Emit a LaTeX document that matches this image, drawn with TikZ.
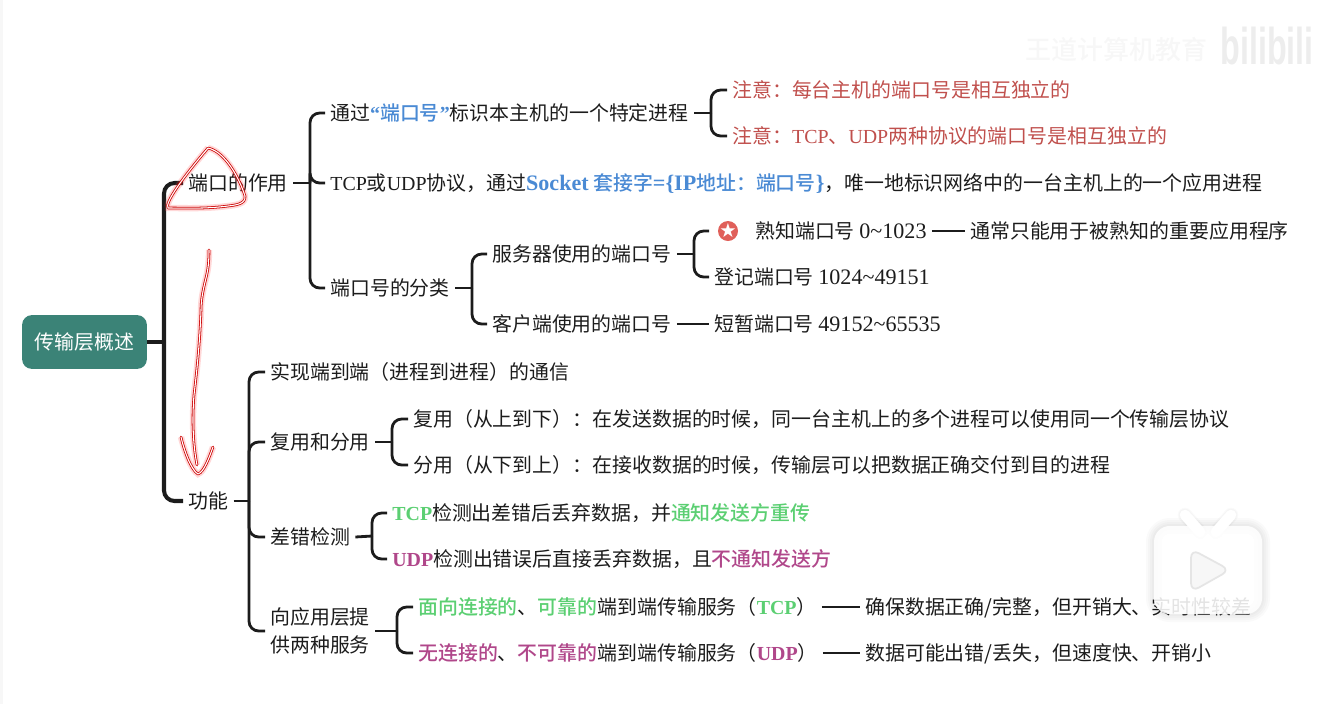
\documentclass[tikz,border=0pt]{standalone}
\usepackage{fontspec}
\usepackage{graphicx}
\usepackage{xcolor}
\usetikzlibrary{arrows.meta, positioning, calc}
\setmainfont{Noto Sans CJK SC}[BoldFont={Noto Sans CJK SC Medium}]
\newfontfamily\latinfont{Liberation Serif}
\newfontfamily\widefont[Scale=1.11]{Liberation Serif}
\newfontfamily\sansfont{Liberation Sans}
\newcommand{\la}[1]{{\latinfont #1}}
\newcommand{\wi}[1]{{\widefont #1}}
\definecolor{cTeal}{HTML}{3B8377}
\definecolor{cInk}{HTML}{1C1C1C}
\definecolor{cBlue}{HTML}{4A8AD4}
\definecolor{cNote}{HTML}{C0504D}
\definecolor{cStar}{HTML}{E0605A}
\definecolor{cGreen}{HTML}{5BCF72}
\definecolor{cPlum}{HTML}{B0478A}
\newcommand{\hlBlue}[1]{\textcolor{cBlue}{\bfseries #1}}
\newcommand{\hlGreen}[1]{\textcolor{cGreen}{\bfseries #1}}
\newcommand{\hlPlum}[1]{\textcolor{cPlum}{\bfseries #1}}

\tikzset{
  item/.style={anchor=west, inner xsep=5pt*0.57, inner ysep=0pt, text=cInk,
               text height=10.6pt, text depth=1.7pt},
  note/.style={item, text=cNote},
  twolines/.style={anchor=west, inner xsep=5pt*0.57, inner ysep=0pt, text=cInk, align=left},
  link/.style={draw=cInk, line width=1.6pt, rounded corners=5.5pt},
  mainlink/.style={draw=cInk, line width=2.3pt, rounded corners=6pt},
  pen/.style={draw=red!80!black, double=white, line width=0.45pt, double distance=0.6pt,
              line join=round, line cap=round,
              preaction={draw=red!70, double=none, opacity=0.22, line width=3.6pt}},
  softshade/.style={draw=black, opacity=0.018, line cap=round, line join=round}
}

\begin{document}
\begin{tikzpicture}[x=0.02cm, y=-0.02cm, font=\fontsize{11.33}{15.9}\selectfont]
    \useasboundingbox (0,0) rectangle (1318,704);
    \fill[black!3] (0,0) rectangle (3,704);

    % Root and first level
    \node[fill=cTeal, text=white, rounded corners=5.5pt, minimum width=71pt, minimum height=30.6pt,
          inner sep=0pt, outer sep=0pt] (root) at (84.5,342) {传输层概述};
    \node[item] (role) at (183,183) {端口的作用};
    \node[item] (func) at (183,501) {功能};
    \coordinate (jRoot) at (164,342);
    \draw[mainlink] (root.east) -- (jRoot);
    \foreach \t in {role, func} \draw[mainlink] (jRoot) |- (\t.west);

    % Port role
    \node[item] (ident) at (325,113) {通过\hlBlue{\la{“}端口号\la{”}}标识本主机的一个特定进程};
    \node[item] (socket) at (325,183) {\la{TCP}或\la{UDP}协议，通过\hlBlue{\wi{Socket} 套接字\wi{=\{IP}地址：端口号\wi{\}}}，唯一地标识网络中的一台主机上的一个应用进程};
    \node[item] (kinds) at (325,288) {端口号的分类};
    \coordinate (jRole) at (310,183);
    \draw[link] (role.east) -- (jRole);
    \foreach \t in {ident, socket, kinds} \draw[link] (jRole) |- (\t.west);

    % Notes
    \node[note] (noteA) at (727,90) {注意：每台主机的端口号是相互独立的};
    \node[note] (noteB) at (727,136) {注意：\la{TCP}、\la{UDP}两种协议的端口号是相互独立的};
    \coordinate (jIdent) at (711,113);
    \draw[link] (ident.east) -- (jIdent);
    \foreach \t in {noteA, noteB} \draw[link] (jIdent) |- (\t.west);

    % Port number kinds
    \node[item] (server) at (487,254) {服务器使用的端口号};
    \node[item] (client) at (487,324) {客户端使用的端口号};
    \coordinate (jKinds) at (472,288);
    \draw[link] (kinds.east) -- (jKinds);
    \foreach \t in {server, client} \draw[link] (jKinds) |- (\t.west);

    \node[item] (star) at (709,231) {\phantom{熟}};
    \fill[cStar] (728,231) circle (10);
    \node[text=white, inner sep=0pt, font=\fontsize{9}{9}\selectfont] (starmark) at (728,230.5) {\textbf{★}};
    \node[item] (known) at (750,231) {熟知端口号 \wi{0\textasciitilde 1023}};
    \node[item] (reg) at (709,277) {登记端口号 \wi{1024\textasciitilde 49151}};
    \node[item] (temp) at (709,324) {短暂端口号 \wi{49152\textasciitilde 65535}};
    \node[item] (knownuse) at (965,231) {通常只能用于被熟知的重要应用程序};
    \coordinate (jServer) at (694,254);
    \draw[link] (server.east) -- (jServer);
    \foreach \t in {star, reg} \draw[link] (jServer) |- (\t.west);
    \draw[link] (client.east) -- (temp.west);
    \draw[link] (known.east) -- (knownuse.west);

    % Functions
    \node[item] (e2e) at (265,372) {实现端到端（进程到进程）的通信};
    \node[item] (mux) at (265,442) {复用和分用};
    \node[item] (err) at (265,537) {差错检测};
    \node[twolines] (serv) at (265,631) {向应用层提\\供两种服务};
    \coordinate (jFunc) at (249,501);
    \draw[link] (func.east) -- (jFunc);
    \foreach \t in {e2e, mux, err, serv} \draw[link] (jFunc) |- (\t.west);

    \node[item] (muxA) at (408,419) {复用（从上到下）：在发送数据的时候，同一台主机上的多个进程可以使用同一个传输层协议};
    \node[item] (muxB) at (408,465) {分用（从下到上）：在接收数据的时候，传输层可以把数据正确交付到目的进程};
    \coordinate (jMux) at (392,442);
    \draw[link] (mux.east) -- (jMux);
    \foreach \t in {muxA, muxB} \draw[link] (jMux) |- (\t.west);

    \node[item] (errA) at (387,513) {\hlGreen{\la{TCP}}检测出差错后丢弃数据，并\hlGreen{通知发送方重传}};
    \node[item] (errB) at (387,559) {\hlPlum{\la{UDP}}检测出错误后直接丢弃数据，且\hlPlum{不通知发送方}};
    \coordinate (jErr) at (372,536);
    \draw[link] (err.east) -- (jErr);
    \foreach \t in {errA, errB} \draw[link] (jErr) |- (\t.west);

    \node[item] (servA) at (413,607) {\hlGreen{面向连接的}、\hlGreen{可靠的}端到端传输服务（\hlGreen{\la{TCP}}）};
    \node[item] (servB) at (413,653) {\hlPlum{无连接的}、\hlPlum{不可靠的}端到端传输服务（\hlPlum{\la{UDP}}）};
    \node[item] (servAuse) at (860,607) {确保数据正确/完整，但开销大、实时性较差};
    \node[item] (servBuse) at (860,653) {数据可能出错/丢失，但速度快、开销小};
    \coordinate (jServ) at (397,631);
    \draw[link] (serv.east) -- (jServ);
    \foreach \t in {servA, servB} \draw[link] (jServ) |- (\t.west);
    \draw[link] (servA.east) -- (servAuse.west);
    \draw[link] (servB.east) -- (servBuse.west);

    % Handwriting
    \draw[pen] (208,148) .. controls (226,152) and (240,180) .. (245,196)
        .. controls (246,204) and (236,205) .. (228,206)
        .. controls (205,209) and (185,208) .. (168,208)
        .. controls (164,203) and (185,175) .. (208,148) -- (204,153);
    \draw[pen] (209,250) .. controls (209,262) and (208,270) .. (206,278)
        .. controls (203,290) and (201,300) .. (201,310)
        .. controls (200,340) and (197,370) .. (194,395)
        .. controls (192,420) and (193,445) .. (197,465);
    \draw[pen] (181,437) .. controls (184,450) and (191,470) .. (198,474)
        .. controls (204,472) and (209,458) .. (213,447);

    % Player overlay
    \foreach \w in {16,12,8,4} {
      \draw[softshade, line width=\w*0.57pt, rounded corners=9pt] (1154,526) rectangle (1262,614);
    }
    \foreach \w in {4,2} {
      \draw[softshade, line width=6pt+\w*0.57pt] (1185,515) -- (1200,532);
      \draw[softshade, line width=6pt+\w*0.57pt] (1231,515) -- (1216,532);
    }
    \draw[white, line width=6pt, line cap=round] (1185,515) -- (1200,532);
    \draw[white, line width=6pt, line cap=round] (1231,515) -- (1216,532);
    \fill[white, opacity=0.88, rounded corners=9pt] (1154,526) rectangle (1262,614);
    \draw[black!10, fill=black!3, line width=1pt, rounded corners=5pt, line join=round]
        (1191,549) -- (1230,570) -- (1191,592) -- cycle;

    % Watermark
    \node[anchor=west, inner sep=0pt, text=black!3, font=\fontsize{14.8}{14.8}\bfseries\selectfont] (mark) at (1025,50) {王道计算机教育};
    \node[anchor=west, inner sep=0pt, text=black!7, font=\fontsize{18.4}{18.4}\bfseries\selectfont] (bili) at (1220,46) {\sansfont\scalebox{1}[1.6]{bilibili}};
\end{tikzpicture}
\end{document}
